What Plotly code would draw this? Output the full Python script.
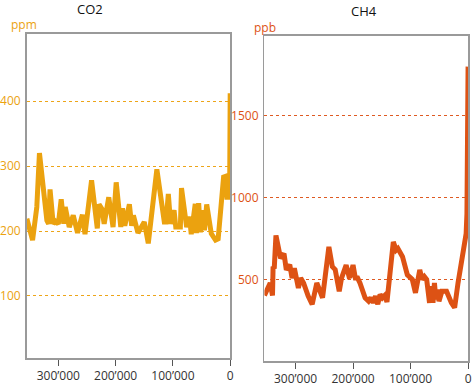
import plotly.graph_objects as go

# CO2 (ppm) vs years before present
co2_age = [355000, 345000, 337600, 333000, 320000, 317000, 314500, 309000, 305000, 300000,
           295000, 290500, 288000, 281000, 274000, 266500, 258000, 253500, 242000, 232000,
           229000, 224000, 220000, 212000, 204500, 199000, 191000, 188000, 184000, 176000,
           172000, 169000, 161000, 150000, 143000, 128000, 115000, 112000, 108000, 104000,
           98000, 95000, 87000, 85000, 76000, 71000, 68000, 61000, 59000, 55000,
           52000, 48000, 45000, 41000, 33000, 25600, 21000, 11500, 8500, 5700, 2500, 800, 0]
co2_val = [219, 186, 237, 320, 216, 211, 264, 211, 215, 211,
           249, 211, 237, 206, 224, 197, 225, 195, 278, 204,
           241, 234, 211, 252, 206, 275, 206, 235, 208, 241,
           208, 224, 197, 214, 181, 295, 214, 214, 257, 211,
           232, 206, 206, 266, 206, 222, 195, 242, 197, 243,
           198, 232, 201, 241, 196, 186, 188, 283, 284, 252, 252, 280, 412]

# CH4 (ppb) vs years before present
ch4_age = [354000, 344000, 340000, 339000, 337000, 334000, 328000, 326000, 320000, 316000,
           310000, 306000, 302000, 299000, 295000, 291000, 286000, 278000, 271000, 263000,
           260000, 253000, 242000, 236000, 231000, 224000, 220000, 212000, 207000, 205000,
           200000, 196000, 192000, 188000, 179000, 173000, 169000, 165000, 161000, 157000,
           153000, 149000, 145000, 141000, 130000, 125000, 122000, 114000, 105600, 100000,
           97000, 91500, 84000, 80000, 76000, 72000, 67000, 64000, 61000, 58500, 56000,
           53000, 50600, 45500, 37500, 29000, 23400, 17500, 11900, 6300, 3400, 2000, 1200, 600, 0]
ch4_val = [402, 478, 402, 578, 566, 769, 679, 630, 658, 558,
           590, 508, 568, 500, 448, 508, 478, 398, 348, 478,
           448, 388, 699, 578, 560, 428, 508, 588, 518, 520,
           588, 508, 508, 478, 388, 367, 388, 358, 398, 348,
           408, 388, 402, 362, 729, 679, 689, 639, 528, 508,
           500, 418, 558, 500, 518, 500, 357, 458, 357, 478, 378,
           438, 367, 428, 428, 357, 327, 478, 598, 679, 779, 900, 1300, 1700, 1800]

x_tickvals = [300000, 200000, 100000, 0]
x_ticktext = ["300’000", "200’000", "100’000", "0"]
co2_ticks = [100, 200, 300, 400]
ch4_ticks = [500, 1000, 1500]

CO2_COLOR = "#EBA20F"
CH4_COLOR = "#DD5214"
CO2_GRID = "#EDA519"
CH4_GRID = "#DE5A22"
FRAME = "#9a9a9a"
FONT = "Open Sans"

fig = go.Figure()
fig.add_trace(go.Scatter(x=co2_age, y=co2_val, mode="lines",
                         line=dict(color=CO2_COLOR, width=5), xaxis="x", yaxis="y",
                         showlegend=False, hoverinfo="skip"))
fig.add_trace(go.Scatter(x=ch4_age, y=ch4_val, mode="lines",
                         line=dict(color=CH4_COLOR, width=5), xaxis="x2", yaxis="y2",
                         showlegend=False, hoverinfo="skip"))

H = 387
W = 476
xcommon = dict(showline=True, linecolor=FRAME, linewidth=1.5, mirror=True,
               ticks="outside", ticklen=6, tickcolor="#555", tickwidth=1,
               tickvals=x_tickvals, ticktext=x_ticktext, showgrid=False, zeroline=False,
               tickfont=dict(family=FONT, size=12, color="#333"))
ycommon = dict(showline=True, linecolor=FRAME, linewidth=1.5, mirror=True,
               ticks="", showgrid=True, griddash="dot", gridwidth=1, zeroline=False)

fig.update_layout(
    width=W, height=H,
    margin=dict(l=0, r=0, t=0, b=0),
    paper_bgcolor="white", plot_bgcolor="white",
    xaxis=dict(domain=[21 / W, 229 / W], range=[355500, 0], anchor="y", **xcommon),
    yaxis=dict(domain=[1 - 363 / H, 1 - 34 / H], range=[4, 504], anchor="x",
               tickvals=co2_ticks, gridcolor=CO2_GRID,
               tickfont=dict(family=FONT, size=12, color=CO2_COLOR), ticklabelstandoff=2,
               **ycommon),
    xaxis2=dict(domain=[264 / W, 472 / W], range=[354000, 0], anchor="y2", **xcommon),
    yaxis2=dict(domain=[1 - 366 / H, 1 - 36 / H], range=[0, 1990], anchor="x2",
                tickvals=ch4_ticks, gridcolor=CH4_GRID,
                tickfont=dict(family=FONT, size=12, color=CH4_COLOR), ticklabelstandoff=2,
                **ycommon),
    annotations=[
        dict(text="CO2", x=86 / W, y=1 - 9 / H, xref="paper", yref="paper",
             xanchor="center", yanchor="middle",
             showarrow=False, font=dict(family=FONT, size=13, color="#111")),
        dict(text="CH4", x=366 / W, y=1 - 11 / H, xref="paper", yref="paper",
             xanchor="center", yanchor="middle",
             showarrow=False, font=dict(family=FONT, size=13, color="#111")),
        dict(text="ppm", x=3 / W, y=1 - 25 / H, xref="paper", yref="paper",
             xanchor="left", yanchor="middle",
             showarrow=False, font=dict(family=FONT, size=12, color=CO2_COLOR)),
        dict(text="ppb", x=251 / W, y=1 - 28 / H, xref="paper", yref="paper",
             xanchor="left", yanchor="middle",
             showarrow=False, font=dict(family=FONT, size=12, color=CH4_COLOR)),
    ],
)

fig.write_html("out.html", config={"displayModeBar": False, "staticPlot": True},
               post_script="document.body.style.margin='0';document.body.style.overflow='hidden';")
